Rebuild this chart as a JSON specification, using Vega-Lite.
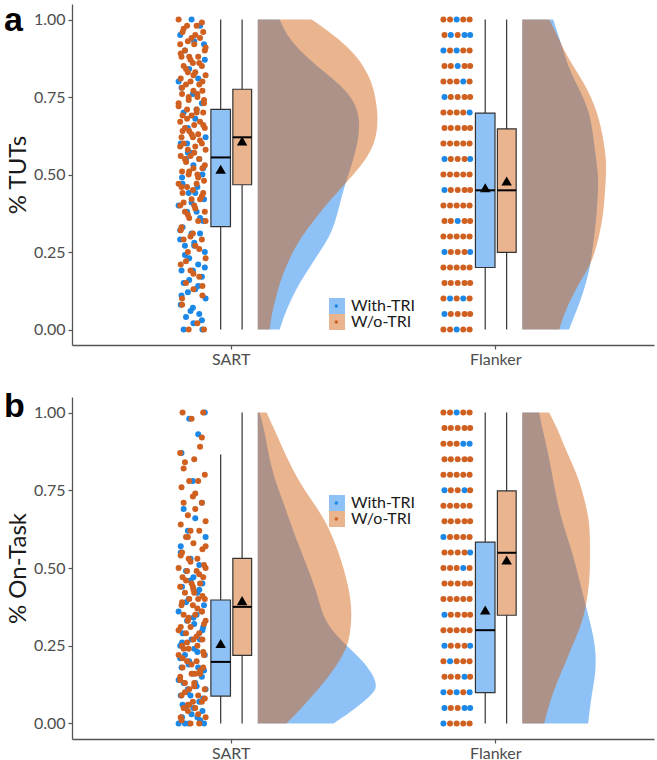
{
 "$schema": "https://vega.github.io/schema/vega-lite/v6.json",
 "background": "white",
 "padding": {"left": 4, "top": 4, "right": 2, "bottom": 0},
 "spacing": 23,
 "config": {
  "view": {"stroke": null},
  "font": "Lato",
  "axis": {"grid": false, "domainColor": "#555555", "domainWidth": 1.3, "tickColor": "#555555", "tickWidth": 1.2, "tickSize": 4, "labelFont": "Lato", "labelFontSize": 16, "labelColor": "#4d4d4d", "titleFont": "Lato", "titleFontSize": 24, "titleFontWeight": "normal", "titleColor": "#1a1a1a"},
  "legend": {"labelFont": "Lato"}
 },
 "resolve": {"scale": {"fill": "independent", "color": "independent"}},
 "datasets": {
  "bx": [
   {"p":"a","t":"S","c":"w","xl":0.925,"xr":0.999,"xm":0.962,"lo":0,"q1":0.332,"med":0.555,"q3":0.71,"hi":1,"mean":0.517},
   {"p":"a","t":"S","c":"o","xl":1.008,"xr":1.079,"xm":1.043,"lo":0,"q1":0.467,"med":0.62,"q3":0.775,"hi":1,"mean":0.608},
   {"p":"a","t":"F","c":"w","xl":1.925,"xr":1.999,"xm":1.962,"lo":0,"q1":0.2,"med":0.449,"q3":0.698,"hi":1,"mean":0.457},
   {"p":"a","t":"F","c":"o","xl":2.008,"xr":2.079,"xm":2.043,"lo":0,"q1":0.249,"med":0.449,"q3":0.647,"hi":1,"mean":0.479},
   {"p":"b","t":"S","c":"w","xl":0.925,"xr":0.999,"xm":0.962,"lo":0,"q1":0.088,"med":0.198,"q3":0.397,"hi":0.865,"mean":0.257},
   {"p":"b","t":"S","c":"o","xl":1.008,"xr":1.079,"xm":1.043,"lo":0,"q1":0.219,"med":0.375,"q3":0.531,"hi":1,"mean":0.395},
   {"p":"b","t":"F","c":"w","xl":1.925,"xr":1.999,"xm":1.962,"lo":0,"q1":0.099,"med":0.3,"q3":0.583,"hi":1,"mean":0.365},
   {"p":"b","t":"F","c":"o","xl":2.008,"xr":2.079,"xm":2.043,"lo":0,"q1":0.348,"med":0.549,"q3":0.748,"hi":1,"mean":0.526}
  ],
  "da": [
   {"t":"S","c":"w","y":1,"x0":1.102,"x1":1.185},{"t":"S","c":"w","y":0.95,"x0":1.102,"x1":1.211},{"t":"S","c":"w","y":0.9,"x0":1.102,"x1":1.26},{"t":"S","c":"w","y":0.85,"x0":1.102,"x1":1.325},{"t":"S","c":"w","y":0.8,"x0":1.102,"x1":1.4},{"t":"S","c":"w","y":0.75,"x0":1.102,"x1":1.457},{"t":"S","c":"w","y":0.7,"x0":1.102,"x1":1.483},{"t":"S","c":"w","y":0.65,"x0":1.102,"x1":1.487},{"t":"S","c":"w","y":0.6,"x0":1.102,"x1":1.479},{"t":"S","c":"w","y":0.55,"x0":1.102,"x1":1.464},{"t":"S","c":"w","y":0.5,"x0":1.102,"x1":1.445},{"t":"S","c":"w","y":0.45,"x0":1.102,"x1":1.426},{"t":"S","c":"w","y":0.4,"x0":1.102,"x1":1.411},{"t":"S","c":"w","y":0.35,"x0":1.102,"x1":1.396},{"t":"S","c":"w","y":0.3,"x0":1.102,"x1":1.374},{"t":"S","c":"w","y":0.25,"x0":1.102,"x1":1.336},{"t":"S","c":"w","y":0.2,"x0":1.102,"x1":1.298},{"t":"S","c":"w","y":0.15,"x0":1.102,"x1":1.26},{"t":"S","c":"w","y":0.1,"x0":1.102,"x1":1.23},{"t":"S","c":"w","y":0.05,"x0":1.102,"x1":1.204},{"t":"S","c":"w","y":0,"x0":1.102,"x1":1.185},
   {"t":"S","c":"o","y":1,"x0":1.102,"x1":1.306},{"t":"S","c":"o","y":0.95,"x0":1.102,"x1":1.389},{"t":"S","c":"o","y":0.9,"x0":1.102,"x1":1.457},{"t":"S","c":"o","y":0.85,"x0":1.102,"x1":1.502},{"t":"S","c":"o","y":0.8,"x0":1.102,"x1":1.532},{"t":"S","c":"o","y":0.75,"x0":1.102,"x1":1.547},{"t":"S","c":"o","y":0.7,"x0":1.102,"x1":1.555},{"t":"S","c":"o","y":0.65,"x0":1.102,"x1":1.555},{"t":"S","c":"o","y":0.6,"x0":1.102,"x1":1.543},{"t":"S","c":"o","y":0.55,"x0":1.102,"x1":1.513},{"t":"S","c":"o","y":0.5,"x0":1.102,"x1":1.464},{"t":"S","c":"o","y":0.45,"x0":1.102,"x1":1.411},{"t":"S","c":"o","y":0.4,"x0":1.102,"x1":1.358},{"t":"S","c":"o","y":0.35,"x0":1.102,"x1":1.313},{"t":"S","c":"o","y":0.3,"x0":1.102,"x1":1.268},{"t":"S","c":"o","y":0.25,"x0":1.102,"x1":1.234},{"t":"S","c":"o","y":0.2,"x0":1.102,"x1":1.208},{"t":"S","c":"o","y":0.15,"x0":1.102,"x1":1.185},{"t":"S","c":"o","y":0.1,"x0":1.102,"x1":1.17},{"t":"S","c":"o","y":0.05,"x0":1.102,"x1":1.155},{"t":"S","c":"o","y":0,"x0":1.102,"x1":1.147},
   {"t":"F","c":"w","y":1,"x0":2.102,"x1":2.219},{"t":"F","c":"w","y":0.95,"x0":2.102,"x1":2.238},{"t":"F","c":"w","y":0.9,"x0":2.102,"x1":2.257},{"t":"F","c":"w","y":0.85,"x0":2.102,"x1":2.275},{"t":"F","c":"w","y":0.8,"x0":2.102,"x1":2.302},{"t":"F","c":"w","y":0.75,"x0":2.102,"x1":2.332},{"t":"F","c":"w","y":0.7,"x0":2.102,"x1":2.355},{"t":"F","c":"w","y":0.65,"x0":2.102,"x1":2.366},{"t":"F","c":"w","y":0.6,"x0":2.102,"x1":2.374},{"t":"F","c":"w","y":0.55,"x0":2.102,"x1":2.381},{"t":"F","c":"w","y":0.5,"x0":2.102,"x1":2.389},{"t":"F","c":"w","y":0.45,"x0":2.102,"x1":2.389},{"t":"F","c":"w","y":0.4,"x0":2.102,"x1":2.385},{"t":"F","c":"w","y":0.35,"x0":2.102,"x1":2.381},{"t":"F","c":"w","y":0.3,"x0":2.102,"x1":2.374},{"t":"F","c":"w","y":0.25,"x0":2.102,"x1":2.366},{"t":"F","c":"w","y":0.2,"x0":2.102,"x1":2.358},{"t":"F","c":"w","y":0.15,"x0":2.102,"x1":2.343},{"t":"F","c":"w","y":0.1,"x0":2.102,"x1":2.325},{"t":"F","c":"w","y":0.05,"x0":2.102,"x1":2.302},{"t":"F","c":"w","y":0,"x0":2.102,"x1":2.279},
   {"t":"F","c":"o","y":1,"x0":2.102,"x1":2.204},{"t":"F","c":"o","y":0.95,"x0":2.102,"x1":2.234},{"t":"F","c":"o","y":0.9,"x0":2.102,"x1":2.26},{"t":"F","c":"o","y":0.85,"x0":2.102,"x1":2.294},{"t":"F","c":"o","y":0.8,"x0":2.102,"x1":2.332},{"t":"F","c":"o","y":0.75,"x0":2.102,"x1":2.362},{"t":"F","c":"o","y":0.7,"x0":2.102,"x1":2.385},{"t":"F","c":"o","y":0.65,"x0":2.102,"x1":2.4},{"t":"F","c":"o","y":0.6,"x0":2.102,"x1":2.411},{"t":"F","c":"o","y":0.55,"x0":2.102,"x1":2.419},{"t":"F","c":"o","y":0.5,"x0":2.102,"x1":2.419},{"t":"F","c":"o","y":0.45,"x0":2.102,"x1":2.415},{"t":"F","c":"o","y":0.4,"x0":2.102,"x1":2.411},{"t":"F","c":"o","y":0.35,"x0":2.102,"x1":2.404},{"t":"F","c":"o","y":0.3,"x0":2.102,"x1":2.392},{"t":"F","c":"o","y":0.25,"x0":2.102,"x1":2.377},{"t":"F","c":"o","y":0.2,"x0":2.102,"x1":2.355},{"t":"F","c":"o","y":0.15,"x0":2.102,"x1":2.317},{"t":"F","c":"o","y":0.1,"x0":2.102,"x1":2.287},{"t":"F","c":"o","y":0.05,"x0":2.102,"x1":2.26},{"t":"F","c":"o","y":0,"x0":2.102,"x1":2.242}
  ],
  "db": [
   {"t":"S","c":"w","y":1,"x0":1.102,"x1":1.109},{"t":"S","c":"w","y":0.95,"x0":1.102,"x1":1.125},{"t":"S","c":"w","y":0.9,"x0":1.102,"x1":1.136},{"t":"S","c":"w","y":0.85,"x0":1.102,"x1":1.147},{"t":"S","c":"w","y":0.8,"x0":1.102,"x1":1.162},{"t":"S","c":"w","y":0.75,"x0":1.102,"x1":1.181},{"t":"S","c":"w","y":0.7,"x0":1.102,"x1":1.204},{"t":"S","c":"w","y":0.65,"x0":1.102,"x1":1.223},{"t":"S","c":"w","y":0.6,"x0":1.102,"x1":1.245},{"t":"S","c":"w","y":0.55,"x0":1.102,"x1":1.268},{"t":"S","c":"w","y":0.5,"x0":1.102,"x1":1.291},{"t":"S","c":"w","y":0.45,"x0":1.102,"x1":1.313},{"t":"S","c":"w","y":0.4,"x0":1.102,"x1":1.332},{"t":"S","c":"w","y":0.35,"x0":1.102,"x1":1.347},{"t":"S","c":"w","y":0.3,"x0":1.102,"x1":1.381},{"t":"S","c":"w","y":0.25,"x0":1.102,"x1":1.438},{"t":"S","c":"w","y":0.2,"x0":1.102,"x1":1.502},{"t":"S","c":"w","y":0.15,"x0":1.102,"x1":1.543},{"t":"S","c":"w","y":0.12,"x0":1.102,"x1":1.551},{"t":"S","c":"w","y":0.1,"x0":1.102,"x1":1.543},{"t":"S","c":"w","y":0.05,"x0":1.102,"x1":1.475},{"t":"S","c":"w","y":0,"x0":1.102,"x1":1.389},
   {"t":"S","c":"o","y":1,"x0":1.102,"x1":1.136},{"t":"S","c":"o","y":0.95,"x0":1.102,"x1":1.162},{"t":"S","c":"o","y":0.9,"x0":1.102,"x1":1.189},{"t":"S","c":"o","y":0.85,"x0":1.102,"x1":1.215},{"t":"S","c":"o","y":0.8,"x0":1.102,"x1":1.245},{"t":"S","c":"o","y":0.75,"x0":1.102,"x1":1.279},{"t":"S","c":"o","y":0.7,"x0":1.102,"x1":1.321},{"t":"S","c":"o","y":0.65,"x0":1.102,"x1":1.358},{"t":"S","c":"o","y":0.6,"x0":1.102,"x1":1.385},{"t":"S","c":"o","y":0.55,"x0":1.102,"x1":1.408},{"t":"S","c":"o","y":0.5,"x0":1.102,"x1":1.426},{"t":"S","c":"o","y":0.45,"x0":1.102,"x1":1.442},{"t":"S","c":"o","y":0.4,"x0":1.102,"x1":1.453},{"t":"S","c":"o","y":0.35,"x0":1.102,"x1":1.457},{"t":"S","c":"o","y":0.3,"x0":1.102,"x1":1.453},{"t":"S","c":"o","y":0.25,"x0":1.102,"x1":1.442},{"t":"S","c":"o","y":0.2,"x0":1.102,"x1":1.411},{"t":"S","c":"o","y":0.15,"x0":1.102,"x1":1.37},{"t":"S","c":"o","y":0.1,"x0":1.102,"x1":1.321},{"t":"S","c":"o","y":0.05,"x0":1.102,"x1":1.268},{"t":"S","c":"o","y":0,"x0":1.102,"x1":1.211},
   {"t":"F","c":"w","y":1,"x0":2.102,"x1":2.166},{"t":"F","c":"w","y":0.95,"x0":2.102,"x1":2.177},{"t":"F","c":"w","y":0.9,"x0":2.102,"x1":2.192},{"t":"F","c":"w","y":0.85,"x0":2.102,"x1":2.204},{"t":"F","c":"w","y":0.8,"x0":2.102,"x1":2.215},{"t":"F","c":"w","y":0.75,"x0":2.102,"x1":2.226},{"t":"F","c":"w","y":0.7,"x0":2.102,"x1":2.238},{"t":"F","c":"w","y":0.65,"x0":2.102,"x1":2.253},{"t":"F","c":"w","y":0.6,"x0":2.102,"x1":2.272},{"t":"F","c":"w","y":0.55,"x0":2.102,"x1":2.291},{"t":"F","c":"w","y":0.5,"x0":2.102,"x1":2.306},{"t":"F","c":"w","y":0.45,"x0":2.102,"x1":2.321},{"t":"F","c":"w","y":0.4,"x0":2.102,"x1":2.336},{"t":"F","c":"w","y":0.35,"x0":2.102,"x1":2.351},{"t":"F","c":"w","y":0.3,"x0":2.102,"x1":2.366},{"t":"F","c":"w","y":0.25,"x0":2.102,"x1":2.377},{"t":"F","c":"w","y":0.2,"x0":2.102,"x1":2.381},{"t":"F","c":"w","y":0.15,"x0":2.102,"x1":2.377},{"t":"F","c":"w","y":0.1,"x0":2.102,"x1":2.366},{"t":"F","c":"w","y":0.05,"x0":2.102,"x1":2.358},{"t":"F","c":"w","y":0,"x0":2.102,"x1":2.351},
   {"t":"F","c":"o","y":1,"x0":2.102,"x1":2.204},{"t":"F","c":"o","y":0.95,"x0":2.102,"x1":2.234},{"t":"F","c":"o","y":0.9,"x0":2.102,"x1":2.257},{"t":"F","c":"o","y":0.85,"x0":2.102,"x1":2.283},{"t":"F","c":"o","y":0.8,"x0":2.102,"x1":2.309},{"t":"F","c":"o","y":0.75,"x0":2.102,"x1":2.328},{"t":"F","c":"o","y":0.7,"x0":2.102,"x1":2.343},{"t":"F","c":"o","y":0.65,"x0":2.102,"x1":2.355},{"t":"F","c":"o","y":0.6,"x0":2.102,"x1":2.358},{"t":"F","c":"o","y":0.55,"x0":2.102,"x1":2.358},{"t":"F","c":"o","y":0.5,"x0":2.102,"x1":2.358},{"t":"F","c":"o","y":0.45,"x0":2.102,"x1":2.355},{"t":"F","c":"o","y":0.4,"x0":2.102,"x1":2.347},{"t":"F","c":"o","y":0.35,"x0":2.102,"x1":2.336},{"t":"F","c":"o","y":0.3,"x0":2.102,"x1":2.317},{"t":"F","c":"o","y":0.25,"x0":2.102,"x1":2.291},{"t":"F","c":"o","y":0.2,"x0":2.102,"x1":2.268},{"t":"F","c":"o","y":0.15,"x0":2.102,"x1":2.242},{"t":"F","c":"o","y":0.1,"x0":2.102,"x1":2.219},{"t":"F","c":"o","y":0.05,"x0":2.102,"x1":2.2},{"t":"F","c":"o","y":0,"x0":2.102,"x1":2.185}
  ],
  "pa": [
   {"c":"W","x":0.852,"y":1},{"c":"W","x":0.884,"y":0.98},{"c":"W","x":0.809,"y":0.95},{"c":"W","x":0.862,"y":0.93},{"c":"W","x":0.827,"y":0.9},{"c":"W","x":0.902,"y":0.87},{"c":"W","x":0.843,"y":0.84},{"c":"W","x":0.877,"y":0.81},{"c":"W","x":0.814,"y":0.78},{"c":"W","x":0.857,"y":0.76},{"c":"W","x":0.891,"y":0.73},{"c":"W","x":0.822,"y":0.7},{"c":"W","x":0.866,"y":0.68},{"c":"W","x":0.838,"y":0.65},{"c":"W","x":0.905,"y":0.62},{"c":"W","x":0.811,"y":0.6},{"c":"W","x":0.848,"y":0.57},{"c":"W","x":0.881,"y":0.55},{"c":"W","x":0.831,"y":0.55},{"c":"W","x":0.859,"y":0.53},{"c":"W","x":0.893,"y":0.5},{"c":"W","x":0.816,"y":0.49},{"c":"W","x":0.874,"y":0.46},{"c":"W","x":0.841,"y":0.44},{"c":"W","x":0.899,"y":0.42},{"c":"W","x":0.803,"y":0.4},{"c":"W","x":0.871,"y":0.38},{"c":"W","x":0.835,"y":0.38},{"c":"W","x":0.896,"y":0.35},{"c":"W","x":0.818,"y":0.33},{"c":"W","x":0.852,"y":0.31},{"c":"W","x":0.884,"y":0.31},{"c":"W","x":0.809,"y":0.29},{"c":"W","x":0.862,"y":0.27},{"c":"W","x":0.827,"y":0.27},{"c":"W","x":0.902,"y":0.25},{"c":"W","x":0.843,"y":0.23},{"c":"W","x":0.877,"y":0.21},{"c":"W","x":0.814,"y":0.19},{"c":"W","x":0.857,"y":0.19},{"c":"W","x":0.891,"y":0.17},{"c":"W","x":0.822,"y":0.15},{"c":"W","x":0.866,"y":0.13},{"c":"W","x":0.838,"y":0.12},{"c":"W","x":0.905,"y":0.1},{"c":"W","x":0.811,"y":0.08},{"c":"W","x":0.848,"y":0.06},{"c":"W","x":0.881,"y":0.05},{"c":"W","x":0.831,"y":0.04},{"c":"W","x":0.859,"y":0.02},{"c":"W","x":0.893,"y":0},
   {"c":"W","x":0.899,"y":0.92},{"c":"W","x":0.803,"y":0.8},{"c":"W","x":0.871,"y":0.71},{"c":"W","x":0.835,"y":0.6},{"c":"W","x":0.896,"y":0.52},{"c":"W","x":0.818,"y":0.47},{"c":"W","x":0.852,"y":0.41},{"c":"W","x":0.884,"y":0.36},{"c":"W","x":0.809,"y":0.32},{"c":"W","x":0.862,"y":0.28},{"c":"W","x":0.827,"y":0.24},{"c":"W","x":0.902,"y":0.2},{"c":"W","x":0.843,"y":0.16},{"c":"W","x":0.877,"y":0.14},{"c":"W","x":0.814,"y":0.11},{"c":"W","x":0.857,"y":0.07},{"c":"W","x":0.891,"y":0.03},{"c":"W","x":0.822,"y":0},{"c":"W","x":0.866,"y":0.44},{"c":"W","x":0.838,"y":0.57},
   {"c":"W","x":1.854,"y":1},{"c":"W","x":1.832,"y":0.95},{"c":"W","x":1.884,"y":0.95},{"c":"W","x":1.905,"y":0.95},{"c":"W","x":1.804,"y":0.9},{"c":"W","x":1.854,"y":0.9},{"c":"W","x":1.858,"y":0.85},{"c":"W","x":1.879,"y":0.8},{"c":"W","x":1.808,"y":0.75},{"c":"W","x":1.903,"y":0.7},{"c":"W","x":1.808,"y":0.55},{"c":"W","x":1.905,"y":0.55},{"c":"W","x":1.808,"y":0.45},{"c":"W","x":1.858,"y":0.35},{"c":"W","x":1.808,"y":0.25},{"c":"W","x":1.905,"y":0.25},{"c":"W","x":1.829,"y":0.1},{"c":"W","x":1.879,"y":0.1},{"c":"W","x":1.808,"y":0.05},{"c":"W","x":1.854,"y":0},
   {"c":"O","x":0.803,"y":1},{"c":"O","x":0.871,"y":0.98},{"c":"O","x":0.835,"y":0.98},{"c":"O","x":0.896,"y":0.96},{"c":"O","x":0.818,"y":0.96},{"c":"O","x":0.852,"y":0.94},{"c":"O","x":0.884,"y":0.94},{"c":"O","x":0.809,"y":0.92},{"c":"O","x":0.862,"y":0.92},{"c":"O","x":0.827,"y":0.9},{"c":"O","x":0.902,"y":0.9},{"c":"O","x":0.843,"y":0.88},{"c":"O","x":0.877,"y":0.88},{"c":"O","x":0.814,"y":0.88},{"c":"O","x":0.857,"y":0.86},{"c":"O","x":0.891,"y":0.85},{"c":"O","x":0.822,"y":0.85},{"c":"O","x":0.866,"y":0.83},{"c":"O","x":0.838,"y":0.83},{"c":"O","x":0.905,"y":0.82},{"c":"O","x":0.811,"y":0.81},{"c":"O","x":0.848,"y":0.8},{"c":"O","x":0.881,"y":0.79},{"c":"O","x":0.831,"y":0.79},{"c":"O","x":0.859,"y":0.77},{"c":"O","x":0.893,"y":0.77},{"c":"O","x":0.816,"y":0.76},{"c":"O","x":0.874,"y":0.75},{"c":"O","x":0.841,"y":0.74},{"c":"O","x":0.899,"y":0.73},{"c":"O","x":0.803,"y":0.73},{"c":"O","x":0.871,"y":0.71},{"c":"O","x":0.835,"y":0.71},{"c":"O","x":0.896,"y":0.7},{"c":"O","x":0.818,"y":0.69},{"c":"O","x":0.852,"y":0.69},{"c":"O","x":0.884,"y":0.67},{"c":"O","x":0.809,"y":0.67},{"c":"O","x":0.862,"y":0.66},{"c":"O","x":0.827,"y":0.65},{"c":"O","x":0.902,"y":0.65},{"c":"O","x":0.843,"y":0.64},{"c":"O","x":0.877,"y":0.63},{"c":"O","x":0.814,"y":0.62},{"c":"O","x":0.857,"y":0.62},{"c":"O","x":0.891,"y":0.6},{"c":"O","x":0.822,"y":0.6},{"c":"O","x":0.866,"y":0.59},{"c":"O","x":0.838,"y":0.58},{"c":"O","x":0.905,"y":0.58},{"c":"O","x":0.811,"y":0.56},{"c":"O","x":0.848,"y":0.56},{"c":"O","x":0.881,"y":0.55},{"c":"O","x":0.831,"y":0.54},{"c":"O","x":0.859,"y":0.52},{"c":"O","x":0.893,"y":0.52},{"c":"O","x":0.816,"y":0.51},{"c":"O","x":0.874,"y":0.5},{"c":"O","x":0.841,"y":0.5},{"c":"O","x":0.899,"y":0.48},{"c":"O","x":0.803,"y":0.47},{"c":"O","x":0.871,"y":0.47},{"c":"O","x":0.835,"y":0.46},{"c":"O","x":0.896,"y":0.44},{"c":"O","x":0.818,"y":0.44},{"c":"O","x":0.852,"y":0.42},{"c":"O","x":0.884,"y":0.42},{"c":"O","x":0.809,"y":0.4},{"c":"O","x":0.862,"y":0.4},{"c":"O","x":0.827,"y":0.38},{"c":"O","x":0.902,"y":0.38},{"c":"O","x":0.843,"y":0.36},{"c":"O","x":0.877,"y":0.35},{"c":"O","x":0.814,"y":0.33},{"c":"O","x":0.857,"y":0.31},{"c":"O","x":0.891,"y":0.29},{"c":"O","x":0.822,"y":0.29},{"c":"O","x":0.866,"y":0.27},{"c":"O","x":0.838,"y":0.25},{"c":"O","x":0.905,"y":0.23},{"c":"O","x":0.811,"y":0.21},{"c":"O","x":0.848,"y":0.19},{"c":"O","x":0.881,"y":0.17},{"c":"O","x":0.831,"y":0.15},{"c":"O","x":0.859,"y":0.13},{"c":"O","x":0.893,"y":0.11},{"c":"O","x":0.816,"y":0.08},{"c":"O","x":0.874,"y":0.02},{"c":"O","x":0.841,"y":0},{"c":"O","x":0.899,"y":0},
   {"c":"O","x":0.891,"y":0.99},{"c":"O","x":0.822,"y":0.97},{"c":"O","x":0.866,"y":0.95},{"c":"O","x":0.838,"y":0.93},{"c":"O","x":0.905,"y":0.91},{"c":"O","x":0.811,"y":0.89},{"c":"O","x":0.848,"y":0.87},{"c":"O","x":0.881,"y":0.86},{"c":"O","x":0.831,"y":0.84},{"c":"O","x":0.859,"y":0.82},{"c":"O","x":0.893,"y":0.8},{"c":"O","x":0.816,"y":0.78},{"c":"O","x":0.874,"y":0.76},{"c":"O","x":0.841,"y":0.75},{"c":"O","x":0.899,"y":0.74},{"c":"O","x":0.803,"y":0.72},{"c":"O","x":0.871,"y":0.7},{"c":"O","x":0.835,"y":0.68},{"c":"O","x":0.896,"y":0.66},{"c":"O","x":0.818,"y":0.64},{"c":"O","x":0.852,"y":0.63},{"c":"O","x":0.884,"y":0.61},{"c":"O","x":0.809,"y":0.59},{"c":"O","x":0.862,"y":0.57},{"c":"O","x":0.827,"y":0.55},{"c":"O","x":0.902,"y":0.53},{"c":"O","x":0.843,"y":0.51},{"c":"O","x":0.877,"y":0.49},{"c":"O","x":0.814,"y":0.46},{"c":"O","x":0.857,"y":0.45},{"c":"O","x":0.891,"y":0.43},{"c":"O","x":0.822,"y":0.41},{"c":"O","x":0.866,"y":0.39},{"c":"O","x":0.838,"y":0.37},{"c":"O","x":0.905,"y":0.35},{"c":"O","x":0.811,"y":0.32},{"c":"O","x":0.848,"y":0.3},{"c":"O","x":0.881,"y":0.26},{"c":"O","x":0.831,"y":0.22},{"c":"O","x":0.859,"y":0.18},{"c":"O","x":0.893,"y":0.14},{"c":"O","x":0.816,"y":0.1},
   {"c":"O","x":1.804,"y":1},{"c":"O","x":1.829,"y":1},{"c":"O","x":1.879,"y":1},{"c":"O","x":1.903,"y":1},
   {"c":"O","x":1.808,"y":0.95},{"c":"O","x":1.858,"y":0.95},
   {"c":"O","x":1.829,"y":0.9},{"c":"O","x":1.879,"y":0.9},{"c":"O","x":1.903,"y":0.9},
   {"c":"O","x":1.808,"y":0.85},{"c":"O","x":1.832,"y":0.85},{"c":"O","x":1.884,"y":0.85},{"c":"O","x":1.905,"y":0.85},
   {"c":"O","x":1.804,"y":0.8},{"c":"O","x":1.829,"y":0.8},{"c":"O","x":1.854,"y":0.8},{"c":"O","x":1.903,"y":0.8},
   {"c":"O","x":1.832,"y":0.75},{"c":"O","x":1.858,"y":0.75},{"c":"O","x":1.884,"y":0.75},{"c":"O","x":1.905,"y":0.75},
   {"c":"O","x":1.804,"y":0.7},{"c":"O","x":1.829,"y":0.7},{"c":"O","x":1.854,"y":0.7},{"c":"O","x":1.879,"y":0.7},
   {"c":"O","x":1.808,"y":0.65},{"c":"O","x":1.832,"y":0.65},{"c":"O","x":1.858,"y":0.65},{"c":"O","x":1.884,"y":0.65},{"c":"O","x":1.905,"y":0.65},
   {"c":"O","x":1.804,"y":0.6},{"c":"O","x":1.829,"y":0.6},{"c":"O","x":1.854,"y":0.6},{"c":"O","x":1.879,"y":0.6},{"c":"O","x":1.903,"y":0.6},
   {"c":"O","x":1.832,"y":0.55},{"c":"O","x":1.858,"y":0.55},{"c":"O","x":1.884,"y":0.55},
   {"c":"O","x":1.804,"y":0.5},{"c":"O","x":1.829,"y":0.5},{"c":"O","x":1.854,"y":0.5},{"c":"O","x":1.879,"y":0.5},{"c":"O","x":1.903,"y":0.5},
   {"c":"O","x":1.832,"y":0.45},{"c":"O","x":1.858,"y":0.45},{"c":"O","x":1.884,"y":0.45},{"c":"O","x":1.905,"y":0.45},
   {"c":"O","x":1.804,"y":0.4},{"c":"O","x":1.829,"y":0.4},{"c":"O","x":1.854,"y":0.4},{"c":"O","x":1.879,"y":0.4},{"c":"O","x":1.903,"y":0.4},
   {"c":"O","x":1.808,"y":0.35},{"c":"O","x":1.832,"y":0.35},{"c":"O","x":1.884,"y":0.35},{"c":"O","x":1.905,"y":0.35},
   {"c":"O","x":1.804,"y":0.3},{"c":"O","x":1.829,"y":0.3},{"c":"O","x":1.854,"y":0.3},{"c":"O","x":1.879,"y":0.3},{"c":"O","x":1.903,"y":0.3},
   {"c":"O","x":1.832,"y":0.25},{"c":"O","x":1.858,"y":0.25},{"c":"O","x":1.884,"y":0.25},
   {"c":"O","x":1.804,"y":0.2},{"c":"O","x":1.829,"y":0.2},{"c":"O","x":1.854,"y":0.2},{"c":"O","x":1.879,"y":0.2},{"c":"O","x":1.903,"y":0.2},
   {"c":"O","x":1.808,"y":0.15},{"c":"O","x":1.832,"y":0.15},{"c":"O","x":1.858,"y":0.15},{"c":"O","x":1.884,"y":0.15},{"c":"O","x":1.905,"y":0.15},
   {"c":"O","x":1.804,"y":0.1},{"c":"O","x":1.854,"y":0.1},{"c":"O","x":1.903,"y":0.1},
   {"c":"O","x":1.832,"y":0.05},{"c":"O","x":1.858,"y":0.05},{"c":"O","x":1.884,"y":0.05},{"c":"O","x":1.905,"y":0.05},
   {"c":"O","x":1.804,"y":0},{"c":"O","x":1.829,"y":0},{"c":"O","x":1.879,"y":0},{"c":"O","x":1.903,"y":0}
  ],
  "pb": [
   {"c":"W","x":0.902,"y":1},{"c":"W","x":0.843,"y":0.98},{"c":"W","x":0.877,"y":0.93},{"c":"W","x":0.814,"y":0.87},{"c":"W","x":0.857,"y":0.78},{"c":"W","x":0.891,"y":0.71},{"c":"W","x":0.822,"y":0.69},{"c":"W","x":0.866,"y":0.66},{"c":"W","x":0.838,"y":0.62},{"c":"W","x":0.905,"y":0.6},{"c":"W","x":0.811,"y":0.55},{"c":"W","x":0.848,"y":0.53},{"c":"W","x":0.881,"y":0.51},{"c":"W","x":0.831,"y":0.49},{"c":"W","x":0.859,"y":0.47},{"c":"W","x":0.893,"y":0.45},{"c":"W","x":0.816,"y":0.44},{"c":"W","x":0.874,"y":0.42},{"c":"W","x":0.841,"y":0.4},{"c":"W","x":0.899,"y":0.38},{"c":"W","x":0.803,"y":0.36},{"c":"W","x":0.871,"y":0.35},{"c":"W","x":0.835,"y":0.33},{"c":"W","x":0.896,"y":0.31},{"c":"W","x":0.818,"y":0.29},{"c":"W","x":0.852,"y":0.27},{"c":"W","x":0.884,"y":0.27},{"c":"W","x":0.809,"y":0.25},{"c":"W","x":0.862,"y":0.24},{"c":"W","x":0.827,"y":0.22},{"c":"W","x":0.902,"y":0.22},{"c":"W","x":0.843,"y":0.2},{"c":"W","x":0.877,"y":0.18},{"c":"W","x":0.814,"y":0.18},{"c":"W","x":0.857,"y":0.16},{"c":"W","x":0.891,"y":0.15},{"c":"W","x":0.822,"y":0.13},{"c":"W","x":0.866,"y":0.13},{"c":"W","x":0.838,"y":0.11},{"c":"W","x":0.905,"y":0.11},{"c":"W","x":0.811,"y":0.09},{"c":"W","x":0.848,"y":0.09},{"c":"W","x":0.881,"y":0.07},{"c":"W","x":0.831,"y":0.05},{"c":"W","x":0.859,"y":0.05},{"c":"W","x":0.893,"y":0.04},{"c":"W","x":0.816,"y":0.02},{"c":"W","x":0.874,"y":0.02},{"c":"W","x":0.841,"y":0},{"c":"W","x":0.899,"y":0},{"c":"W","x":0.803,"y":0},
   {"c":"W","x":0.811,"y":0.57},{"c":"W","x":0.848,"y":0.46},{"c":"W","x":0.881,"y":0.43},{"c":"W","x":0.831,"y":0.39},{"c":"W","x":0.859,"y":0.34},{"c":"W","x":0.893,"y":0.3},{"c":"W","x":0.816,"y":0.26},{"c":"W","x":0.874,"y":0.23},{"c":"W","x":0.841,"y":0.19},{"c":"W","x":0.899,"y":0.17},{"c":"W","x":0.803,"y":0.14},{"c":"W","x":0.871,"y":0.12},{"c":"W","x":0.835,"y":0.1},{"c":"W","x":0.896,"y":0.08},{"c":"W","x":0.818,"y":0.06},{"c":"W","x":0.852,"y":0.03},{"c":"W","x":0.884,"y":0.01},{"c":"W","x":0.809,"y":0.21},{"c":"W","x":0.862,"y":0.32},{"c":"W","x":0.827,"y":0},
   {"c":"W","x":1.854,"y":1},{"c":"W","x":1.879,"y":0.9},{"c":"W","x":1.903,"y":0.9},{"c":"W","x":1.808,"y":0.75},{"c":"W","x":1.884,"y":0.75},{"c":"W","x":1.804,"y":0.6},{"c":"W","x":1.905,"y":0.55},{"c":"W","x":1.879,"y":0.5},{"c":"W","x":1.808,"y":0.35},{"c":"W","x":1.808,"y":0.25},{"c":"W","x":1.905,"y":0.25},{"c":"W","x":1.829,"y":0.2},{"c":"W","x":1.884,"y":0.15},{"c":"W","x":1.804,"y":0.1},{"c":"W","x":1.854,"y":0.1},{"c":"W","x":1.903,"y":0.1},{"c":"W","x":1.808,"y":0.05},{"c":"W","x":1.884,"y":0.05},{"c":"W","x":1.905,"y":0.05},{"c":"W","x":1.804,"y":0},
   {"c":"O","x":0.896,"y":1},{"c":"O","x":0.818,"y":1},{"c":"O","x":0.852,"y":0.98},{"c":"O","x":0.884,"y":0.89},{"c":"O","x":0.809,"y":0.87},{"c":"O","x":0.862,"y":0.85},{"c":"O","x":0.827,"y":0.84},{"c":"O","x":0.902,"y":0.8},{"c":"O","x":0.843,"y":0.78},{"c":"O","x":0.877,"y":0.78},{"c":"O","x":0.814,"y":0.76},{"c":"O","x":0.857,"y":0.73},{"c":"O","x":0.891,"y":0.71},{"c":"O","x":0.822,"y":0.71},{"c":"O","x":0.866,"y":0.69},{"c":"O","x":0.838,"y":0.67},{"c":"O","x":0.905,"y":0.65},{"c":"O","x":0.811,"y":0.64},{"c":"O","x":0.848,"y":0.62},{"c":"O","x":0.881,"y":0.62},{"c":"O","x":0.831,"y":0.6},{"c":"O","x":0.859,"y":0.58},{"c":"O","x":0.893,"y":0.56},{"c":"O","x":0.816,"y":0.55},{"c":"O","x":0.874,"y":0.53},{"c":"O","x":0.841,"y":0.53},{"c":"O","x":0.899,"y":0.51},{"c":"O","x":0.803,"y":0.5},{"c":"O","x":0.871,"y":0.49},{"c":"O","x":0.835,"y":0.49},{"c":"O","x":0.896,"y":0.47},{"c":"O","x":0.818,"y":0.47},{"c":"O","x":0.852,"y":0.45},{"c":"O","x":0.884,"y":0.45},{"c":"O","x":0.809,"y":0.44},{"c":"O","x":0.862,"y":0.42},{"c":"O","x":0.827,"y":0.42},{"c":"O","x":0.902,"y":0.4},{"c":"O","x":0.843,"y":0.4},{"c":"O","x":0.877,"y":0.4},{"c":"O","x":0.814,"y":0.38},{"c":"O","x":0.857,"y":0.38},{"c":"O","x":0.891,"y":0.36},{"c":"O","x":0.822,"y":0.35},{"c":"O","x":0.866,"y":0.35},{"c":"O","x":0.838,"y":0.33},{"c":"O","x":0.905,"y":0.33},{"c":"O","x":0.811,"y":0.31},{"c":"O","x":0.848,"y":0.31},{"c":"O","x":0.881,"y":0.29},{"c":"O","x":0.831,"y":0.29},{"c":"O","x":0.859,"y":0.27},{"c":"O","x":0.893,"y":0.27},{"c":"O","x":0.816,"y":0.25},{"c":"O","x":0.874,"y":0.25},{"c":"O","x":0.841,"y":0.24},{"c":"O","x":0.899,"y":0.22},{"c":"O","x":0.803,"y":0.22},{"c":"O","x":0.871,"y":0.2},{"c":"O","x":0.835,"y":0.2},{"c":"O","x":0.896,"y":0.18},{"c":"O","x":0.818,"y":0.18},{"c":"O","x":0.852,"y":0.16},{"c":"O","x":0.884,"y":0.16},{"c":"O","x":0.809,"y":0.15},{"c":"O","x":0.862,"y":0.13},{"c":"O","x":0.827,"y":0.13},{"c":"O","x":0.902,"y":0.11},{"c":"O","x":0.843,"y":0.11},{"c":"O","x":0.877,"y":0.09},{"c":"O","x":0.814,"y":0.09},{"c":"O","x":0.857,"y":0.07},{"c":"O","x":0.891,"y":0.07},{"c":"O","x":0.822,"y":0.05},{"c":"O","x":0.866,"y":0.05},{"c":"O","x":0.838,"y":0.04},{"c":"O","x":0.905,"y":0.02},{"c":"O","x":0.811,"y":0.02},{"c":"O","x":0.848,"y":0},{"c":"O","x":0.881,"y":0},
   {"c":"O","x":0.891,"y":0.92},{"c":"O","x":0.822,"y":0.82},{"c":"O","x":0.866,"y":0.74},{"c":"O","x":0.838,"y":0.6},{"c":"O","x":0.905,"y":0.57},{"c":"O","x":0.811,"y":0.54},{"c":"O","x":0.848,"y":0.52},{"c":"O","x":0.881,"y":0.48},{"c":"O","x":0.831,"y":0.46},{"c":"O","x":0.859,"y":0.43},{"c":"O","x":0.893,"y":0.41},{"c":"O","x":0.816,"y":0.39},{"c":"O","x":0.874,"y":0.37},{"c":"O","x":0.841,"y":0.34},{"c":"O","x":0.899,"y":0.32},{"c":"O","x":0.803,"y":0.3},{"c":"O","x":0.871,"y":0.28},{"c":"O","x":0.835,"y":0.26},{"c":"O","x":0.896,"y":0.23},{"c":"O","x":0.818,"y":0.21},{"c":"O","x":0.852,"y":0.19},{"c":"O","x":0.884,"y":0.17},{"c":"O","x":0.809,"y":0.14},{"c":"O","x":0.862,"y":0.12},{"c":"O","x":0.827,"y":0.1},{"c":"O","x":0.902,"y":0.08},{"c":"O","x":0.843,"y":0.06},{"c":"O","x":0.877,"y":0.03},{"c":"O","x":0.814,"y":0.01},{"c":"O","x":0.857,"y":0.44},{"c":"O","x":0.891,"y":0.36},{"c":"O","x":0.822,"y":0.24},{"c":"O","x":0.866,"y":0.16},{"c":"O","x":0.838,"y":0.06},{"c":"O","x":0.905,"y":0.5},
   {"c":"O","x":1.804,"y":1},{"c":"O","x":1.829,"y":1},{"c":"O","x":1.879,"y":1},{"c":"O","x":1.903,"y":1},
   {"c":"O","x":1.808,"y":0.95},{"c":"O","x":1.832,"y":0.95},{"c":"O","x":1.858,"y":0.95},{"c":"O","x":1.884,"y":0.95},{"c":"O","x":1.905,"y":0.95},
   {"c":"O","x":1.804,"y":0.9},{"c":"O","x":1.829,"y":0.9},{"c":"O","x":1.854,"y":0.9},
   {"c":"O","x":1.808,"y":0.85},{"c":"O","x":1.832,"y":0.85},{"c":"O","x":1.858,"y":0.85},{"c":"O","x":1.884,"y":0.85},{"c":"O","x":1.905,"y":0.85},
   {"c":"O","x":1.804,"y":0.8},{"c":"O","x":1.829,"y":0.8},{"c":"O","x":1.854,"y":0.8},{"c":"O","x":1.879,"y":0.8},{"c":"O","x":1.903,"y":0.8},
   {"c":"O","x":1.832,"y":0.75},{"c":"O","x":1.858,"y":0.75},{"c":"O","x":1.905,"y":0.75},
   {"c":"O","x":1.804,"y":0.7},{"c":"O","x":1.829,"y":0.7},{"c":"O","x":1.854,"y":0.7},{"c":"O","x":1.879,"y":0.7},{"c":"O","x":1.903,"y":0.7},
   {"c":"O","x":1.808,"y":0.65},{"c":"O","x":1.832,"y":0.65},{"c":"O","x":1.858,"y":0.65},{"c":"O","x":1.884,"y":0.65},{"c":"O","x":1.905,"y":0.65},
   {"c":"O","x":1.829,"y":0.6},{"c":"O","x":1.854,"y":0.6},{"c":"O","x":1.879,"y":0.6},{"c":"O","x":1.903,"y":0.6},
   {"c":"O","x":1.808,"y":0.55},{"c":"O","x":1.832,"y":0.55},{"c":"O","x":1.858,"y":0.55},{"c":"O","x":1.884,"y":0.55},
   {"c":"O","x":1.804,"y":0.5},{"c":"O","x":1.829,"y":0.5},{"c":"O","x":1.854,"y":0.5},{"c":"O","x":1.903,"y":0.5},
   {"c":"O","x":1.808,"y":0.45},{"c":"O","x":1.832,"y":0.45},{"c":"O","x":1.858,"y":0.45},{"c":"O","x":1.884,"y":0.45},{"c":"O","x":1.905,"y":0.45},
   {"c":"O","x":1.804,"y":0.4},{"c":"O","x":1.829,"y":0.4},{"c":"O","x":1.854,"y":0.4},{"c":"O","x":1.879,"y":0.4},{"c":"O","x":1.903,"y":0.4},
   {"c":"O","x":1.832,"y":0.35},{"c":"O","x":1.858,"y":0.35},{"c":"O","x":1.884,"y":0.35},{"c":"O","x":1.905,"y":0.35},
   {"c":"O","x":1.804,"y":0.3},{"c":"O","x":1.829,"y":0.3},{"c":"O","x":1.854,"y":0.3},{"c":"O","x":1.879,"y":0.3},{"c":"O","x":1.903,"y":0.3},
   {"c":"O","x":1.832,"y":0.25},{"c":"O","x":1.858,"y":0.25},{"c":"O","x":1.884,"y":0.25},
   {"c":"O","x":1.804,"y":0.2},{"c":"O","x":1.854,"y":0.2},{"c":"O","x":1.879,"y":0.2},{"c":"O","x":1.903,"y":0.2},
   {"c":"O","x":1.808,"y":0.15},{"c":"O","x":1.832,"y":0.15},{"c":"O","x":1.858,"y":0.15},{"c":"O","x":1.905,"y":0.15},
   {"c":"O","x":1.829,"y":0.1},{"c":"O","x":1.879,"y":0.1},
   {"c":"O","x":1.832,"y":0.05},{"c":"O","x":1.858,"y":0.05},
   {"c":"O","x":1.829,"y":0},{"c":"O","x":1.854,"y":0},{"c":"O","x":1.879,"y":0},{"c":"O","x":1.903,"y":0}
  ]
 },
 "vconcat": [
  {
   "width": 582, "height": 341,
   "title": {"text": "a", "orient": "none", "align": "left", "font": "Liberation Sans", "fontSize": 34, "fontWeight": "bold", "color": "#000000", "baseline": "alphabetic", "dx": -68, "dy": 27},
   "layer": [
    {"data": {"name": "da"}, "transform": [{"filter": "datum.c == 'w'"}],
     "mark": {"type": "area", "orient": "horizontal", "fillOpacity": 0.45, "interpolate": "basis"},
     "encoding": {
      "y": {"field": "y", "type": "quantitative", "scale": {"domain": [-0.05, 1.05], "nice": false, "zero": false}, "axis": {"values": [0, 0.25, 0.5, 0.75, 1], "format": ".2f", "title": "% TUTs", "titlePadding": 3, "labelPadding": 3}},
      "x": {"field": "x0", "type": "quantitative", "stack": null, "scale": {"domain": [0.4, 2.6], "nice": false, "zero": false}, "axis": {"values": [1, 2], "labelExpr": "datum.value == 1 ? 'SART' : 'Flanker'", "title": null, "labelPadding": 2}},
      "x2": {"field": "x1"},
      "fill": {"field": "c", "type": "nominal", "scale": {"domain": ["w", "o"], "range": ["#0478EC", "#D15904"]}, "legend": {"orient": "none", "legendX": 257, "legendY": 294, "title": null, "symbolType": "square", "symbolSize": 256, "symbolOpacity": 0.45, "symbolStrokeWidth": 0, "labelFontSize": 16, "labelColor": "#1a1a1a", "labelOffset": 6, "rowPadding": 0, "padding": 0, "labelExpr": "datum.value == 'w' ? 'With-TRI' : 'W/o-TRI'", "zindex": 1}},
      "detail": {"field": "t"}
     }},
    {"data": {"name": "da"}, "transform": [{"filter": "datum.c == 'o'"}],
     "mark": {"type": "area", "orient": "horizontal", "fillOpacity": 0.45, "interpolate": "basis"},
     "encoding": {
      "y": {"field": "y", "type": "quantitative", "title": "% TUTs"},
      "x": {"field": "x0", "type": "quantitative", "stack": null, "title": null},
      "x2": {"field": "x1"},
      "fill": {"field": "c", "type": "nominal"},
      "detail": {"field": "t"}
     }},
    {"data": {"name": "bx"}, "transform": [{"filter": "datum.p == 'a'"}],
     "mark": {"type": "rule", "color": "#333333", "strokeWidth": 1.2},
     "encoding": {"x": {"field": "xm", "type": "quantitative", "title": null}, "y": {"field": "lo", "type": "quantitative", "title": "% TUTs"}, "y2": {"field": "q1"}}},
    {"data": {"name": "bx"}, "transform": [{"filter": "datum.p == 'a'"}],
     "mark": {"type": "rule", "color": "#333333", "strokeWidth": 1.2},
     "encoding": {"x": {"field": "xm", "type": "quantitative", "title": null}, "y": {"field": "q3", "type": "quantitative", "title": "% TUTs"}, "y2": {"field": "hi"}}},
    {"data": {"name": "bx"}, "transform": [{"filter": "datum.p == 'a'"}],
     "mark": {"type": "rect", "fillOpacity": 0.45, "stroke": "#333333", "strokeWidth": 1.2},
     "encoding": {"x": {"field": "xl", "type": "quantitative", "title": null}, "x2": {"field": "xr"}, "y": {"field": "q1", "type": "quantitative", "title": "% TUTs"}, "y2": {"field": "q3"}, "fill": {"field": "c", "type": "nominal"}}},
    {"data": {"name": "bx"}, "transform": [{"filter": "datum.p == 'a'"}],
     "mark": {"type": "rule", "color": "#000000", "strokeWidth": 2},
     "encoding": {"x": {"field": "xl", "type": "quantitative", "title": null}, "x2": {"field": "xr"}, "y": {"field": "med", "type": "quantitative", "title": "% TUTs"}}},
    {"data": {"name": "bx"}, "transform": [{"filter": "datum.p == 'a'"}],
     "mark": {"type": "point", "shape": "triangle-up", "filled": true, "color": "#000000", "opacity": 1, "size": 110},
     "encoding": {"x": {"field": "xm", "type": "quantitative", "title": null}, "y": {"field": "mean", "type": "quantitative", "title": "% TUTs"}}},
    {"data": {"name": "pa"},
     "mark": {"type": "circle", "size": 36, "opacity": 1},
     "encoding": {"x": {"field": "x", "type": "quantitative", "title": null}, "y": {"field": "y", "type": "quantitative", "title": "% TUTs"},
      "color": {"field": "c", "type": "nominal", "scale": {"domain": ["W", "O"], "range": ["#1B87E6", "#CF6020"]}, "legend": {"orient": "none", "legendX": 256.3, "legendY": 294, "title": null, "symbolType": "circle", "symbolSize": 12, "symbolOpacity": 1, "labelFontSize": 16, "labelOpacity": 0, "rowPadding": 0, "padding": 0, "zindex": 2}}}}
   ]
  },
  {
   "width": 582, "height": 342,
   "title": {"text": "b", "orient": "none", "align": "left", "font": "Liberation Sans", "fontSize": 34, "fontWeight": "bold", "color": "#000000", "baseline": "alphabetic", "dx": -68, "dy": 20},
   "layer": [
    {"data": {"name": "db"}, "transform": [{"filter": "datum.c == 'w'"}],
     "mark": {"type": "area", "orient": "horizontal", "fillOpacity": 0.45, "interpolate": "basis"},
     "encoding": {
      "y": {"field": "y", "type": "quantitative", "scale": {"domain": [-0.05, 1.05], "nice": false, "zero": false}, "axis": {"values": [0, 0.25, 0.5, 0.75, 1], "format": ".2f", "title": "% On-Task", "titlePadding": 3, "labelPadding": 3}},
      "x": {"field": "x0", "type": "quantitative", "stack": null, "scale": {"domain": [0.4, 2.6], "nice": false, "zero": false}, "axis": {"values": [1, 2], "labelExpr": "datum.value == 1 ? 'SART' : 'Flanker'", "title": null, "labelPadding": 2}},
      "x2": {"field": "x1"},
      "fill": {"field": "c", "type": "nominal", "scale": {"domain": ["w", "o"], "range": ["#0478EC", "#D15904"]}, "legend": {"orient": "none", "legendX": 257, "legendY": 98, "title": null, "symbolType": "square", "symbolSize": 256, "symbolOpacity": 0.45, "symbolStrokeWidth": 0, "labelFontSize": 16, "labelColor": "#1a1a1a", "labelOffset": 6, "rowPadding": 0, "padding": 0, "labelExpr": "datum.value == 'w' ? 'With-TRI' : 'W/o-TRI'", "zindex": 1}},
      "detail": {"field": "t"}
     }},
    {"data": {"name": "db"}, "transform": [{"filter": "datum.c == 'o'"}],
     "mark": {"type": "area", "orient": "horizontal", "fillOpacity": 0.45, "interpolate": "basis"},
     "encoding": {
      "y": {"field": "y", "type": "quantitative", "title": "% On-Task"},
      "x": {"field": "x0", "type": "quantitative", "stack": null, "title": null},
      "x2": {"field": "x1"},
      "fill": {"field": "c", "type": "nominal"},
      "detail": {"field": "t"}
     }},
    {"data": {"name": "bx"}, "transform": [{"filter": "datum.p == 'b'"}],
     "mark": {"type": "rule", "color": "#333333", "strokeWidth": 1.2},
     "encoding": {"x": {"field": "xm", "type": "quantitative", "title": null}, "y": {"field": "lo", "type": "quantitative", "title": "% On-Task"}, "y2": {"field": "q1"}}},
    {"data": {"name": "bx"}, "transform": [{"filter": "datum.p == 'b'"}],
     "mark": {"type": "rule", "color": "#333333", "strokeWidth": 1.2},
     "encoding": {"x": {"field": "xm", "type": "quantitative", "title": null}, "y": {"field": "q3", "type": "quantitative", "title": "% On-Task"}, "y2": {"field": "hi"}}},
    {"data": {"name": "bx"}, "transform": [{"filter": "datum.p == 'b'"}],
     "mark": {"type": "rect", "fillOpacity": 0.45, "stroke": "#333333", "strokeWidth": 1.2},
     "encoding": {"x": {"field": "xl", "type": "quantitative", "title": null}, "x2": {"field": "xr"}, "y": {"field": "q1", "type": "quantitative", "title": "% On-Task"}, "y2": {"field": "q3"}, "fill": {"field": "c", "type": "nominal"}}},
    {"data": {"name": "bx"}, "transform": [{"filter": "datum.p == 'b'"}],
     "mark": {"type": "rule", "color": "#000000", "strokeWidth": 2},
     "encoding": {"x": {"field": "xl", "type": "quantitative", "title": null}, "x2": {"field": "xr"}, "y": {"field": "med", "type": "quantitative", "title": "% On-Task"}}},
    {"data": {"name": "bx"}, "transform": [{"filter": "datum.p == 'b'"}],
     "mark": {"type": "point", "shape": "triangle-up", "filled": true, "color": "#000000", "opacity": 1, "size": 110},
     "encoding": {"x": {"field": "xm", "type": "quantitative", "title": null}, "y": {"field": "mean", "type": "quantitative", "title": "% On-Task"}}},
    {"data": {"name": "pb"},
     "mark": {"type": "circle", "size": 36, "opacity": 1},
     "encoding": {"x": {"field": "x", "type": "quantitative", "title": null}, "y": {"field": "y", "type": "quantitative", "title": "% On-Task"},
      "color": {"field": "c", "type": "nominal", "scale": {"domain": ["W", "O"], "range": ["#1B87E6", "#CF6020"]}, "legend": {"orient": "none", "legendX": 256.3, "legendY": 98, "title": null, "symbolType": "circle", "symbolSize": 12, "symbolOpacity": 1, "labelFontSize": 16, "labelOpacity": 0, "rowPadding": 0, "padding": 0, "zindex": 2}}}}
   ]
  }
 ]
}
